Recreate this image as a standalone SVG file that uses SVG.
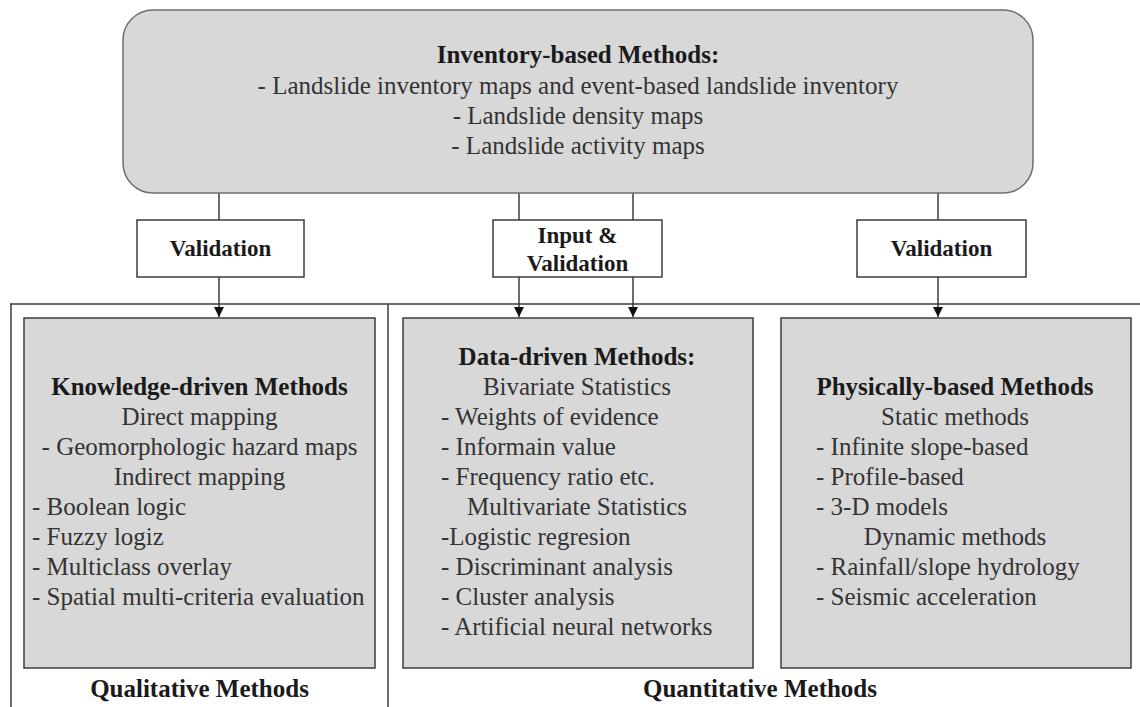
<svg xmlns="http://www.w3.org/2000/svg" width="1140" height="707" viewBox="0 0 1140 707">
  <defs>
    <style>
      text { font-family: "Liberation Serif", "Times New Roman", serif; }
      .body { font-size: 25px; fill: #333333; }
      .head { font-size: 25px; font-weight: bold; fill: #1a1a1a; }
      .lbl { font-size: 23px; font-weight: bold; fill: #1a1a1a; text-anchor: middle; }
      .mid { text-anchor: middle; }
      .panel { fill: #d8d8d8; stroke: #3c3c3c; stroke-width: 1.5; }
      .tag { fill: #ffffff; stroke: #3c3c3c; stroke-width: 1.5; }
      .wire { fill: none; stroke: #3c3c3c; stroke-width: 1.5; }
    </style>
    <marker id="arrow" viewBox="0 0 10 10" refX="10" refY="5" markerWidth="10" markerHeight="10" markerUnits="userSpaceOnUse" orient="auto">
      <path d="M0,0 L10,5 L0,10 Z" fill="#111111"/>
    </marker>
  </defs>
  <rect width="1140" height="707" fill="#ffffff"/>

  <!-- frame separating qualitative and quantitative groups -->
  <g id="frame" class="wire">
    <line x1="10" y1="304" x2="1140" y2="304"/>
    <line x1="11" y1="304" x2="11" y2="707"/>
    <line x1="388" y1="304" x2="388" y2="707"/>
  </g>

  <!-- connectors -->
  <g id="connectors" class="wire">
    <line x1="219" y1="192" x2="219" y2="220"/>
    <line x1="519" y1="192" x2="519" y2="220"/>
    <line x1="633" y1="192" x2="633" y2="220"/>
    <line x1="938" y1="192" x2="938" y2="220"/>
    <line x1="219" y1="277" x2="219" y2="317" marker-end="url(#arrow)"/>
    <line x1="519" y1="277" x2="519" y2="317" marker-end="url(#arrow)"/>
    <line x1="633" y1="277" x2="633" y2="317" marker-end="url(#arrow)"/>
    <line x1="938" y1="277" x2="938" y2="317" marker-end="url(#arrow)"/>
  </g>

  <g id="inventory">
    <rect x="123" y="10" width="910" height="183" rx="30" ry="30" fill="#d8d8d8" stroke="#6e6e6e" stroke-width="1.5"/>
    <text class="head mid" x="578" y="63">Inventory-based Methods:</text>
    <text class="body mid" x="578" y="94">- Landslide inventory maps and event-based landslide inventory</text>
    <text class="body mid" x="578" y="124">- Landslide density maps</text>
    <text class="body mid" x="578" y="154">- Landslide activity maps</text>
  </g>

  <g id="validation-left">
    <rect class="tag" x="137" y="220" width="167" height="57"/>
    <text class="lbl" x="220.5" y="256">Validation</text>
  </g>

  <g id="input-validation">
    <rect class="tag" x="493" y="220" width="169" height="57"/>
    <text class="lbl" x="577.5" y="243">Input &amp;</text>
    <text class="lbl" x="577.5" y="271">Validation</text>
  </g>

  <g id="validation-right">
    <rect class="tag" x="857" y="220" width="169" height="57"/>
    <text class="lbl" x="941.5" y="256">Validation</text>
  </g>

  <g id="knowledge-driven">
    <rect class="panel" x="24" y="318" width="351" height="350"/>
    <text class="head mid" x="199.5" y="395">Knowledge-driven Methods</text>
    <text class="body mid" x="199.5" y="425">Direct mapping</text>
    <text class="body mid" x="199.5" y="455">- Geomorphologic hazard maps</text>
    <text class="body mid" x="199.5" y="485">Indirect mapping</text>
    <text class="body" x="32" y="515">- Boolean logic</text>
    <text class="body" x="32" y="545">- Fuzzy logiz</text>
    <text class="body" x="32" y="575">- Multiclass overlay</text>
    <text class="body" x="32" y="605">- Spatial multi-criteria evaluation</text>
  </g>

  <g id="data-driven">
    <rect class="panel" x="403" y="318" width="350" height="350"/>
    <text class="head mid" x="577" y="365">Data-driven Methods:</text>
    <text class="body mid" x="577" y="395">Bivariate Statistics</text>
    <text class="body" x="441" y="425">- Weights of evidence</text>
    <text class="body" x="441" y="455">- Informain value</text>
    <text class="body" x="441" y="485">- Frequency ratio etc.</text>
    <text class="body mid" x="577" y="515">Multivariate Statistics</text>
    <text class="body" x="441" y="545">-Logistic regresion</text>
    <text class="body" x="441" y="575">- Discriminant analysis</text>
    <text class="body" x="441" y="605">- Cluster analysis</text>
    <text class="body" x="441" y="635">- Artificial neural networks</text>
  </g>

  <g id="physically-based">
    <rect class="panel" x="781" y="318" width="350" height="350"/>
    <text class="head mid" x="955" y="395">Physically-based Methods</text>
    <text class="body mid" x="955" y="425">Static methods</text>
    <text class="body" x="816" y="455">- Infinite slope-based</text>
    <text class="body" x="816" y="485">- Profile-based</text>
    <text class="body" x="816" y="515">- 3-D models</text>
    <text class="body mid" x="955" y="545">Dynamic methods</text>
    <text class="body" x="816" y="575">- Rainfall/slope hydrology</text>
    <text class="body" x="816" y="605">- Seismic acceleration</text>
  </g>

  <g id="group-labels">
    <text class="head mid" x="199.5" y="697">Qualitative Methods</text>
    <text class="head mid" x="760" y="697">Quantitative Methods</text>
  </g>
</svg>
